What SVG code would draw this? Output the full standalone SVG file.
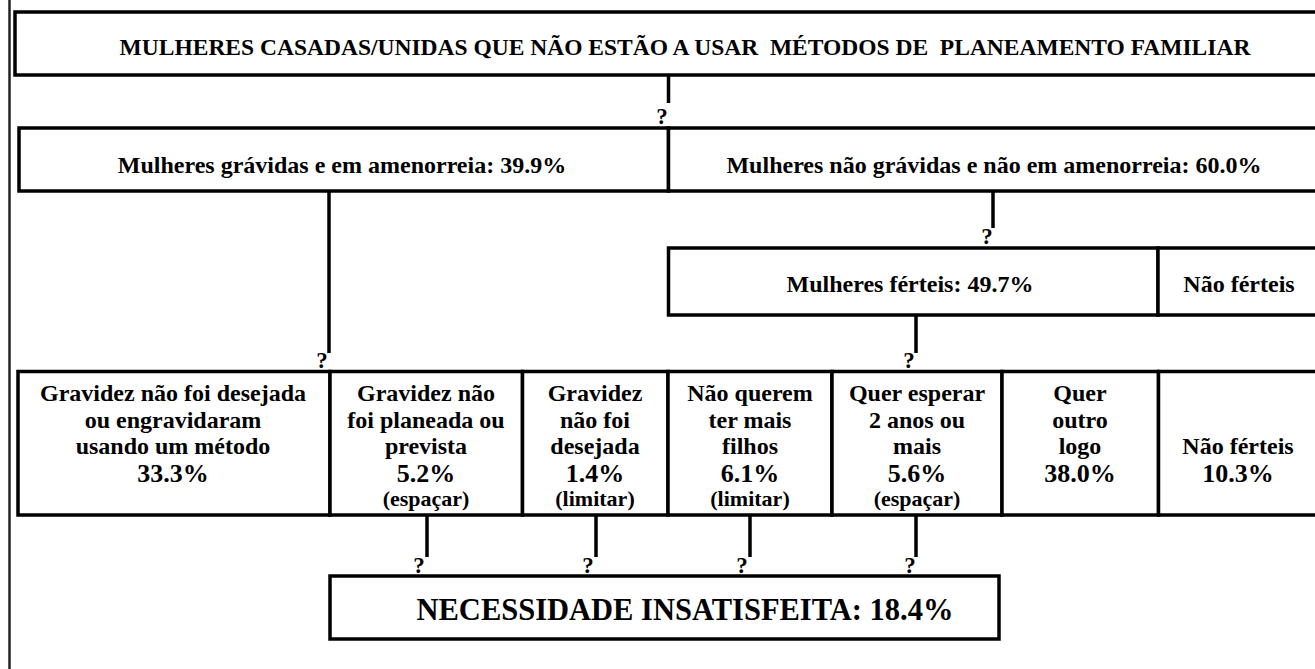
<svg xmlns="http://www.w3.org/2000/svg" width="1315" height="669" viewBox="0 0 1315 669">
<style>
.box{fill:#fff;stroke:#000;stroke-width:3.5}
.con{stroke:#000;stroke-width:3.5;fill:none}
text{font-family:"Liberation Serif","Times New Roman",serif;font-weight:bold;fill:#000}
.t{font-size:24px;text-anchor:middle}
.ti{font-size:23.5px;text-anchor:middle;white-space:pre}
.p{font-size:26px;text-anchor:middle}
.s{font-size:22px;text-anchor:middle}
.q{font-size:23px;text-anchor:middle}
.big{font-size:30.5px;text-anchor:middle}
</style>
<rect width="1315" height="669" fill="#fff"/>
<line x1="9.5" y1="0" x2="9.5" y2="669" stroke="#222" stroke-width="2.5"/>

<g id="title">
<rect class="box" x="15" y="12" width="1330" height="63"/>
<text class="ti" x="685" y="55" xml:space="preserve">MULHERES CASADAS/UNIDAS QUE NÃO ESTÃO A USAR  MÉTODOS DE  PLANEAMENTO FAMILIAR</text>
</g>

<g id="gravidas">
<rect class="box" x="19" y="128" width="649.5" height="63"/>
<text class="t" x="342" y="173">Mulheres grávidas e em amenorreia: 39.9%</text>
</g>
<g id="nao-gravidas">
<rect class="box" x="668.5" y="128" width="680" height="63"/>
<text class="t" x="994" y="173">Mulheres não grávidas e não em amenorreia: 60.0%</text>
</g>

<g id="ferteis">
<rect class="box" x="668.5" y="248" width="489.5" height="67"/>
<text class="t" x="910" y="292">Mulheres férteis: 49.7%</text>
</g>
<g id="nao-ferteis-top">
<rect class="box" x="1158" y="248" width="200" height="67"/>
<text class="t" x="1239" y="292">Não férteis</text>
</g>

<g id="c1">
<rect class="box" x="18" y="371.5" width="312" height="143.5"/>
<text class="t" x="173" y="401">Gravidez não foi desejada</text>
<text class="t" x="173" y="427.5">ou engravidaram</text>
<text class="t" x="173" y="454">usando um método</text>
<text class="p" x="173" y="482">33.3%</text>
</g>
<g id="c2">
<rect class="box" x="330" y="371.5" width="192.5" height="143.5"/>
<text class="t" x="426" y="401">Gravidez não</text>
<text class="t" x="426" y="427.5">foi planeada ou</text>
<text class="t" x="426" y="454">prevista</text>
<text class="p" x="426" y="482">5.2%</text>
<text class="s" x="426" y="506">(espaçar)</text>
</g>
<g id="c3">
<rect class="box" x="522.5" y="371.5" width="145.5" height="143.5"/>
<text class="t" x="595" y="401">Gravidez</text>
<text class="t" x="595" y="427.5">não foi</text>
<text class="t" x="595" y="454">desejada</text>
<text class="p" x="595" y="482">1.4%</text>
<text class="s" x="595" y="506">(limitar)</text>
</g>
<g id="c4">
<rect class="box" x="668" y="371.5" width="164" height="143.5"/>
<text class="t" x="750" y="401">Não querem</text>
<text class="t" x="750" y="427.5">ter mais</text>
<text class="t" x="750" y="454">filhos</text>
<text class="p" x="750" y="482">6.1%</text>
<text class="s" x="750" y="506">(limitar)</text>
</g>
<g id="c5">
<rect class="box" x="832" y="371.5" width="170" height="143.5"/>
<text class="t" x="917" y="401">Quer esperar</text>
<text class="t" x="917" y="427.5">2 anos ou</text>
<text class="t" x="917" y="454">mais</text>
<text class="p" x="917" y="482">5.6%</text>
<text class="s" x="917" y="506">(espaçar)</text>
</g>
<g id="c6">
<rect class="box" x="1002" y="371.5" width="156.5" height="143.5"/>
<text class="t" x="1080" y="401">Quer</text>
<text class="t" x="1080" y="427.5">outro</text>
<text class="t" x="1080" y="454">logo</text>
<text class="p" x="1080" y="482">38.0%</text>
</g>
<g id="c7">
<rect class="box" x="1158.5" y="371.5" width="200" height="143.5"/>
<text class="t" x="1238" y="454">Não férteis</text>
<text class="p" x="1238" y="482">10.3%</text>
</g>

<g id="necessidade">
<rect class="box" x="330" y="576" width="669" height="63"/>
<text class="big" x="685" y="620">NECESSIDADE INSATISFEITA: 18.4%</text>
</g>

<g id="connectors">
<line class="con" x1="668.5" y1="75" x2="668.5" y2="103"/>
<text class="q" x="662" y="124">?</text>
<line class="con" x1="329" y1="191" x2="329" y2="353"/>
<text class="q" x="322" y="368">?</text>
<line class="con" x1="993" y1="191" x2="993" y2="228"/>
<text class="q" x="987" y="244">?</text>
<line class="con" x1="916" y1="315" x2="916" y2="353"/>
<text class="q" x="909" y="368">?</text>
<line class="con" x1="427" y1="515" x2="427" y2="557"/>
<text class="q" x="419" y="573">?</text>
<line class="con" x1="596" y1="515" x2="596" y2="557"/>
<text class="q" x="588" y="573">?</text>
<line class="con" x1="750" y1="515" x2="750" y2="557"/>
<text class="q" x="742" y="573">?</text>
<line class="con" x1="916" y1="515" x2="916" y2="557"/>
<text class="q" x="910" y="573">?</text>
</g>
</svg>
